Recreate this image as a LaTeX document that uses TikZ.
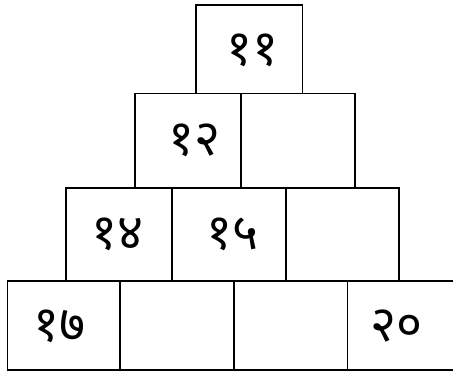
\documentclass[tikz,border=0pt]{standalone}
\usepackage{fontspec}
\newfontfamily\deva[Script=Devanagari]{Noto Sans}
\begin{document}
\begin{tikzpicture}[x=1pt,y=-1pt,
  cell/.style={draw=black,line width=1.5pt,inner sep=0pt,anchor=north west,fill=white},
  num/.style={font=\deva\fontsize{50}{55}\selectfont,inner sep=0pt}]
\useasboundingbox (0,0) rectangle (453,372);
\clip (0,0) rectangle (453,372);
% row 4
\node[cell,minimum width=112.6pt,minimum height=89.3pt] (d1) at (6.7,280) {};
\node[cell,minimum width=114pt,minimum height=89.3pt] (d2) at (119.3,280) {};
\node[cell,minimum width=113.4pt,minimum height=89.3pt] (d3) at (233.3,280) {};
\node[cell,minimum width=113.4pt,minimum height=89.3pt] (d4) at (346.7,280) {};
% row 3
\node[cell,minimum width=106pt,minimum height=92.7pt] (c1) at (65,187.3) {};
\node[cell,minimum width=114pt,minimum height=92.7pt] (c2) at (171,187.3) {};
\node[cell,minimum width=113.3pt,minimum height=92.7pt] (c3) at (285,187.3) {};
% row 2
\node[cell,minimum width=105.7pt,minimum height=94pt] (b1) at (134.3,92.7) {};
\node[cell,minimum width=114pt,minimum height=94pt] (b2) at (240,92.7) {};
% row 1
\node[cell,minimum width=106.7pt,minimum height=88.7pt] (a1) at (195,4) {};
% numbers
\node[num] (t11) at (252.5,50) {११};
\node[num] (t12) at (194,140) {१२};
\node[num] (t14) at (117.5,234) {१४};
\node[num] (t15) at (232.5,234) {१५};
\node[num] (t17) at (60,326) {१७};
\node[num] (t20) at (396.7,326) {२०};
\end{tikzpicture}
\end{document}
